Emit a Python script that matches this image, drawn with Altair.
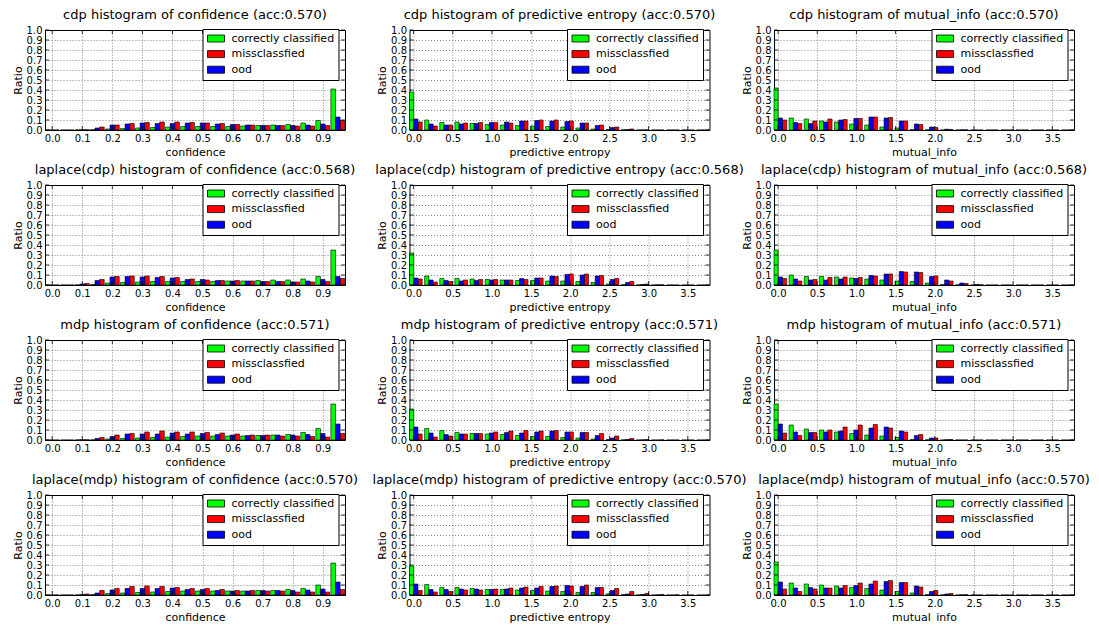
import altair as alt
import pandas as pd

# ---------------- data ----------------
SERIES = ["correctly classified", "missclassfied", "ood"]
COLORS = ["#00ff00", "#ff0000", "#0000ff"]

conf_bins = [0.00, 0.05, 0.10, 0.15, 0.20, 0.25, 0.30, 0.35, 0.40, 0.45,
             0.50, 0.55, 0.60, 0.65, 0.70, 0.75, 0.80, 0.85, 0.90, 0.95]
unc_bins = [0.029, 0.222, 0.415, 0.608, 0.801, 0.994, 1.187, 1.380, 1.573, 1.766,
            1.959, 2.152, 2.345, 2.538, 2.731, 2.924, 3.117, 3.310, 3.503, 3.696]

conf_ticks = [0.0, 0.1, 0.2, 0.3, 0.4, 0.5, 0.6, 0.7, 0.8, 0.9]
unc_ticks = [0.0, 0.5, 1.0, 1.5, 2.0, 2.5, 3.0, 3.5]
ratio_ticks = [0.0, 0.1, 0.2, 0.3, 0.4, 0.5, 0.6, 0.7, 0.8, 0.9, 1.0]

methods = ["cdp", "laplace(cdp)", "mdp", "laplace(mdp)"]
accs = ["0.570", "0.568", "0.571", "0.570"]
metrics = ["confidence", "predictive entropy", "mutual_info"]

# cdp
cdp_conf_correct = [0, 0, 0.002, 0.003, 0.01, 0.015, 0.02, 0.025, 0.03, 0.035, 0.035, 0.035, 0.035, 0.04, 0.045, 0.05, 0.055, 0.07, 0.095, 0.41]
cdp_conf_miss = [0, 0, 0.003, 0.03, 0.05, 0.065, 0.075, 0.08, 0.08, 0.075, 0.07, 0.065, 0.055, 0.05, 0.045, 0.045, 0.04, 0.04, 0.045, 0.095]
cdp_conf_ood = [0, 0, 0.002, 0.02, 0.05, 0.06, 0.07, 0.065, 0.065, 0.07, 0.07, 0.06, 0.055, 0.05, 0.045, 0.045, 0.045, 0.05, 0.06, 0.13]

cdp_ent_correct = [0.38, 0.10, 0.075, 0.08, 0.065, 0.055, 0.05, 0.045, 0.04, 0.035, 0.03, 0.02, 0.01, 0.005, 0.002, 0, 0, 0, 0, 0]
cdp_ent_miss = [0.08, 0.04, 0.05, 0.07, 0.075, 0.075, 0.07, 0.09, 0.10, 0.10, 0.09, 0.07, 0.05, 0.03, 0.01, 0.002, 0, 0, 0, 0]
cdp_ent_ood = [0.11, 0.06, 0.05, 0.06, 0.065, 0.075, 0.08, 0.09, 0.095, 0.09, 0.085, 0.07, 0.045, 0.025, 0.005, 0.001, 0, 0, 0, 0]

cdp_mi_correct = [0.42, 0.12, 0.11, 0.09, 0.08, 0.06, 0.05, 0.03, 0.02, 0.005, 0.002, 0, 0, 0, 0, 0, 0, 0, 0, 0]
cdp_mi_miss = [0.10, 0.065, 0.09, 0.11, 0.105, 0.115, 0.13, 0.125, 0.09, 0.055, 0.025, 0.005, 0.002, 0, 0, 0, 0, 0, 0, 0]
cdp_mi_ood = [0.12, 0.075, 0.065, 0.08, 0.10, 0.115, 0.13, 0.12, 0.09, 0.06, 0.03, 0.008, 0.002, 0, 0, 0, 0, 0, 0, 0]

# laplace(cdp)
lcdp_conf_correct = [0, 0, 0.002, 0.005, 0.02, 0.025, 0.03, 0.035, 0.035, 0.035, 0.035, 0.035, 0.04, 0.04, 0.045, 0.05, 0.05, 0.06, 0.085, 0.35]
lcdp_conf_miss = [0, 0, 0.015, 0.055, 0.085, 0.09, 0.09, 0.085, 0.075, 0.06, 0.05, 0.045, 0.045, 0.04, 0.035, 0.035, 0.03, 0.03, 0.035, 0.065]
lcdp_conf_ood = [0, 0, 0.01, 0.045, 0.08, 0.085, 0.08, 0.075, 0.07, 0.055, 0.055, 0.045, 0.04, 0.04, 0.035, 0.035, 0.03, 0.04, 0.055, 0.085]

lcdp_ent_correct = [0.32, 0.09, 0.065, 0.065, 0.06, 0.055, 0.05, 0.045, 0.045, 0.04, 0.04, 0.035, 0.025, 0.01, 0.003, 0.001, 0, 0, 0, 0]
lcdp_ent_miss = [0.06, 0.03, 0.035, 0.05, 0.055, 0.055, 0.05, 0.055, 0.07, 0.085, 0.11, 0.11, 0.095, 0.065, 0.035, 0.01, 0.002, 0, 0, 0]
lcdp_ent_ood = [0.07, 0.05, 0.045, 0.04, 0.045, 0.05, 0.05, 0.065, 0.07, 0.09, 0.105, 0.10, 0.09, 0.055, 0.025, 0.005, 0.002, 0, 0, 0]

lcdp_mi_correct = [0.35, 0.10, 0.085, 0.085, 0.08, 0.07, 0.06, 0.05, 0.04, 0.035, 0.02, 0.005, 0.002, 0, 0, 0, 0, 0, 0, 0]
lcdp_mi_miss = [0.065, 0.04, 0.055, 0.075, 0.08, 0.075, 0.09, 0.11, 0.13, 0.125, 0.09, 0.04, 0.015, 0.003, 0, 0, 0, 0, 0, 0]
lcdp_mi_ood = [0.08, 0.06, 0.05, 0.05, 0.06, 0.065, 0.095, 0.11, 0.135, 0.13, 0.085, 0.05, 0.02, 0.005, 0, 0, 0, 0, 0, 0]

# mdp
mdp_conf_correct = [0, 0, 0.002, 0.002, 0.01, 0.015, 0.02, 0.025, 0.03, 0.035, 0.04, 0.04, 0.04, 0.04, 0.045, 0.05, 0.055, 0.075, 0.115, 0.36]
mdp_conf_miss = [0, 0, 0.003, 0.025, 0.05, 0.065, 0.08, 0.09, 0.08, 0.08, 0.075, 0.07, 0.06, 0.05, 0.05, 0.04, 0.04, 0.035, 0.03, 0.065]
mdp_conf_ood = [0, 0, 0.003, 0.015, 0.035, 0.06, 0.06, 0.06, 0.07, 0.06, 0.065, 0.055, 0.05, 0.045, 0.045, 0.05, 0.05, 0.055, 0.065, 0.16]

mdp_ent_correct = [0.31, 0.115, 0.095, 0.075, 0.065, 0.06, 0.055, 0.045, 0.035, 0.035, 0.025, 0.02, 0.01, 0.005, 0.002, 0, 0, 0, 0, 0]
mdp_ent_miss = [0.06, 0.03, 0.04, 0.06, 0.065, 0.08, 0.09, 0.095, 0.09, 0.095, 0.08, 0.075, 0.065, 0.04, 0.015, 0.005, 0.002, 0, 0, 0]
mdp_ent_ood = [0.13, 0.07, 0.055, 0.06, 0.065, 0.07, 0.075, 0.07, 0.08, 0.09, 0.08, 0.075, 0.045, 0.02, 0.005, 0.002, 0, 0, 0, 0]

mdp_mi_correct = [0.36, 0.15, 0.11, 0.10, 0.08, 0.065, 0.05, 0.04, 0.025, 0.005, 0.002, 0, 0, 0, 0, 0, 0, 0, 0, 0]
mdp_mi_miss = [0.07, 0.045, 0.075, 0.10, 0.13, 0.15, 0.155, 0.12, 0.08, 0.055, 0.02, 0.005, 0, 0, 0, 0, 0, 0, 0, 0]
mdp_mi_ood = [0.16, 0.08, 0.075, 0.08, 0.09, 0.10, 0.12, 0.13, 0.09, 0.045, 0.02, 0.003, 0, 0, 0, 0, 0, 0, 0, 0]

# laplace(mdp)
lmdp_conf_correct = [0, 0, 0.002, 0.005, 0.015, 0.02, 0.025, 0.03, 0.035, 0.04, 0.04, 0.04, 0.04, 0.04, 0.045, 0.045, 0.055, 0.065, 0.10, 0.32]
lmdp_conf_miss = [0, 0, 0.01, 0.045, 0.065, 0.085, 0.09, 0.085, 0.075, 0.065, 0.065, 0.055, 0.045, 0.045, 0.04, 0.04, 0.03, 0.03, 0.03, 0.055]
lmdp_conf_ood = [0, 0, 0.005, 0.02, 0.05, 0.065, 0.065, 0.065, 0.07, 0.055, 0.055, 0.045, 0.04, 0.04, 0.045, 0.045, 0.045, 0.05, 0.06, 0.13]

lmdp_ent_correct = [0.29, 0.105, 0.075, 0.075, 0.065, 0.055, 0.055, 0.05, 0.045, 0.04, 0.035, 0.025, 0.025, 0.012, 0.005, 0.002, 0, 0, 0, 0]
lmdp_ent_miss = [0.045, 0.03, 0.035, 0.05, 0.05, 0.06, 0.07, 0.08, 0.085, 0.09, 0.09, 0.10, 0.075, 0.065, 0.035, 0.015, 0.005, 0.002, 0, 0]
lmdp_ent_ood = [0.11, 0.055, 0.055, 0.06, 0.06, 0.055, 0.06, 0.07, 0.07, 0.085, 0.095, 0.085, 0.075, 0.045, 0.01, 0.005, 0.002, 0, 0, 0]

lmdp_mi_correct = [0.33, 0.12, 0.11, 0.10, 0.09, 0.075, 0.065, 0.05, 0.035, 0.02, 0.005, 0.002, 0, 0, 0, 0, 0, 0, 0, 0]
lmdp_mi_miss = [0.06, 0.035, 0.06, 0.07, 0.095, 0.12, 0.14, 0.145, 0.125, 0.08, 0.045, 0.015, 0.003, 0, 0, 0, 0, 0, 0, 0]
lmdp_mi_ood = [0.13, 0.07, 0.075, 0.07, 0.07, 0.095, 0.11, 0.135, 0.125, 0.09, 0.035, 0.01, 0.002, 0, 0, 0, 0, 0, 0, 0]

panel_values = [
    [(cdp_conf_correct, cdp_conf_miss, cdp_conf_ood), (cdp_ent_correct, cdp_ent_miss, cdp_ent_ood), (cdp_mi_correct, cdp_mi_miss, cdp_mi_ood)],
    [(lcdp_conf_correct, lcdp_conf_miss, lcdp_conf_ood), (lcdp_ent_correct, lcdp_ent_miss, lcdp_ent_ood), (lcdp_mi_correct, lcdp_mi_miss, lcdp_mi_ood)],
    [(mdp_conf_correct, mdp_conf_miss, mdp_conf_ood), (mdp_ent_correct, mdp_ent_miss, mdp_ent_ood), (mdp_mi_correct, mdp_mi_miss, mdp_mi_ood)],
    [(lmdp_conf_correct, lmdp_conf_miss, lmdp_conf_ood), (lmdp_ent_correct, lmdp_ent_miss, lmdp_ent_ood), (lmdp_mi_correct, lmdp_mi_miss, lmdp_mi_ood)],
]

# ---------------- layout / style ----------------
FONT = "DejaVu Sans"
PANEL_W = 300
PANEL_H = 100
TICK_PX = 4
# (bins, ticks, x-domain, group width) per metric
metric_geom = {
    "confidence": (conf_bins, conf_ticks, [-0.024, 0.974], 0.046),
    "predictive entropy": (unc_bins, unc_ticks, [-0.052, 3.777], 0.162),
    "mutual_info": (unc_bins, unc_ticks, [-0.052, 3.777], 0.162),
}


def make_panel(method, acc, metric, values):
    bins, ticks, domain, gw = metric_geom[metric]
    rows = []
    for name, vals in zip(SERIES, values):
        for c, v in zip(bins, vals):
            rows.append({"center": c, "series": name, "ratio": v})
    df = pd.DataFrame(rows)
    bw = gw / 3.0
    slot = "(datum.series == 'correctly classified' ? 0 : (datum.series == 'ood' ? 1 : 2))"
    xscale = alt.Scale(domain=domain, nice=False, zero=False)
    yscale = alt.Scale(domain=[0, 1], nice=False)
    xaxis = alt.Axis(values=ticks, format=".1f", title=metric, labelPadding=3, titlePadding=3)
    yaxis = alt.Axis(values=ratio_ticks, format=".1f", title="Ratio", labelPadding=3, titlePadding=3)

    bars = (
        alt.Chart(df)
        .transform_calculate(
            x0=f"datum.center - {gw / 2} + {slot} * {bw}",
            x1=f"datum.center - {gw / 2} + ({slot} + 1) * {bw}",
        )
        .mark_bar(stroke="black", strokeWidth=0.6, opacity=1)
        .encode(
            x=alt.X("x0:Q", scale=xscale, axis=xaxis),
            x2="x1:Q",
            y=alt.Y("ratio:Q", scale=yscale, axis=yaxis),
            y2=alt.datum(0),
            color=alt.Color(
                "series:N",
                scale=alt.Scale(domain=SERIES, range=COLORS),
                legend=alt.Legend(
                    title=None, orient="none", legendX=157.5, legendY=-1,
                    symbolType="M-1.7,-0.7H1.7V0.7H-1.7Z", symbolSize=100,
                    symbolOffset=4, clipHeight=11,
                    symbolStrokeColor="black", symbolStrokeWidth=0.8,
                    symbolOpacity=1, labelFont=FONT, labelFontSize=11,
                    labelColor="black", labelOffset=10, rowPadding=3.6,
                    padding=4, strokeColor="black", fillColor="white",
                    cornerRadius=0,
                ),
            ),
        )
    )

    # inward tick marks on all four sides of the frame (matplotlib classic look)
    ty = TICK_PX / PANEL_H
    tx = TICK_PX / PANEL_W * (domain[1] - domain[0])
    xt = pd.DataFrame({"v": ticks})
    yt = pd.DataFrame({"v": ratio_ticks})
    rule = dict(color="black", strokeWidth=0.8)
    x_bottom = alt.Chart(xt).mark_rule(**rule).encode(
        x=alt.X("v:Q", scale=xscale, axis=xaxis),
        y=alt.YDatum(0, scale=yscale, axis=yaxis), y2=alt.datum(ty))
    x_top = alt.Chart(xt).mark_rule(**rule).encode(
        x=alt.X("v:Q", scale=xscale, axis=xaxis),
        y=alt.YDatum(1, scale=yscale, axis=yaxis), y2=alt.datum(1 - ty))
    y_left = alt.Chart(yt).mark_rule(**rule).encode(
        y=alt.Y("v:Q", scale=yscale, axis=yaxis),
        x=alt.XDatum(domain[0], scale=xscale, axis=xaxis), x2=alt.datum(domain[0] + tx))
    y_right = alt.Chart(yt).mark_rule(**rule).encode(
        y=alt.Y("v:Q", scale=yscale, axis=yaxis),
        x=alt.XDatum(domain[1], scale=xscale, axis=xaxis), x2=alt.datum(domain[1] - tx))

    return alt.layer(bars, x_bottom, x_top, y_left, y_right).properties(
        width=PANEL_W, height=PANEL_H,
        title=alt.TitleParams(
            f"{method} histogram of {metric} (acc:{acc})",
            font=FONT, fontSize=13, fontWeight="normal", color="black",
            anchor="middle", frame="group", offset=3,
        ),
    )


panels = []
for r, (method, acc) in enumerate(zip(methods, accs)):
    for c, metric in enumerate(metrics):
        panels.append(make_panel(method, acc, metric, panel_values[r][c]))

chart = (
    alt.concat(*panels, columns=3, spacing={"row": 55, "column": 64.5}, bounds="flush")
    .resolve_scale(color="independent")
    .resolve_legend(color="independent")
    .properties(padding={"left": 3, "top": 0, "right": 0, "bottom": 0})
    .configure(font=FONT)
    .configure_view(stroke="black", strokeWidth=1)
    .configure_axis(
        domain=False, ticks=False, grid=True, gridColor="black", gridDash=[1, 2],
        gridOpacity=0.6, gridWidth=0.8, labelFont=FONT, labelFontSize=10,
        labelColor="black", titleFont=FONT, titleFontSize=11, titleFontWeight="normal",
        titleColor="black", labelFlush=False, labelOverlap=False, labelBound=False,
    )
)

chart.save("out.html", embed_options={"renderer": "svg", "actions": False})
